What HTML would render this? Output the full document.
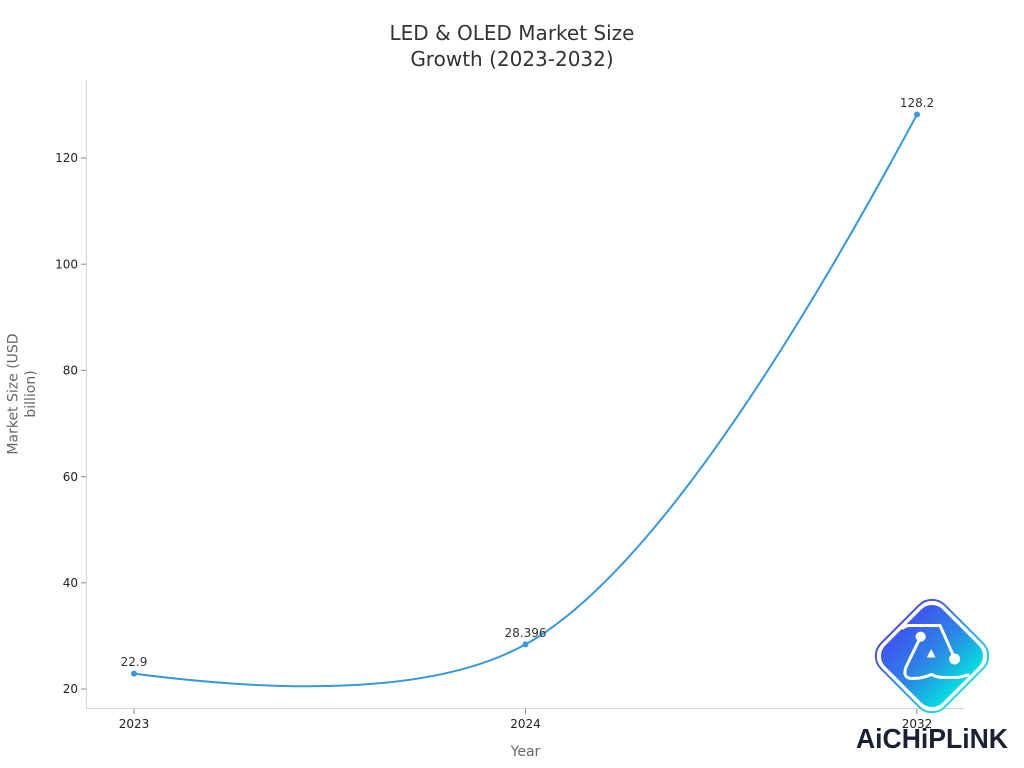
<!DOCTYPE html>
<html lang="en">
<head>
<meta charset="utf-8">
<title>LED &amp; OLED Market Size Growth (2023-2032)</title>
<style>
  html, body { margin: 0; padding: 0; background: #fff; }
  body { width: 1024px; height: 768px; overflow: hidden; }
  svg { display: block; font-family: "DejaVu Sans", "Liberation Sans", sans-serif; }
</style>
</head>
<body>
<svg id="chart" width="1024" height="768" viewBox="0 0 1024 768" xmlns="http://www.w3.org/2000/svg">
  <defs>
    <linearGradient id="logoFill" x1="0" y1="0" x2="1" y2="0">
      <stop offset="0" stop-color="#3f55f0"/>
      <stop offset="0.5" stop-color="#2b86e6"/>
      <stop offset="1" stop-color="#06dcdf"/>
    </linearGradient>
    <linearGradient id="logoEdge" x1="0" y1="0" x2="1" y2="0">
      <stop offset="0" stop-color="#4a50d6"/>
      <stop offset="1" stop-color="#24d6e0"/>
    </linearGradient>
  </defs>
  <rect width="1024" height="768" fill="#ffffff"/>
  <text text-anchor="middle" font-size="20" fill="#333333"><tspan x="512" y="40">LED &amp; OLED Market Size</tspan><tspan x="512" y="66">Growth (2023-2032)</tspan></text>
  <line x1="86.5" y1="80" x2="86.5" y2="708.5" stroke="#d6d6d6" stroke-width="1"/>
  <line x1="86" y1="708.5" x2="964" y2="708.5" stroke="#d6d6d6" stroke-width="1"/>
  <g id="y-ticks"></g>
  <g id="x-ticks"></g>
  <text text-anchor="middle" font-size="14" fill="#666666" transform="translate(17.5 394) rotate(-90)"><tspan x="0" y="0">Market Size (USD</tspan><tspan x="0" y="17.5">billion)</tspan></text>
  <text x="525.5" y="756" text-anchor="middle" font-size="14" fill="#666666">Year</text>
  <g id="series"></g>
  <g>
    <rect x="887" y="611" width="90" height="90" rx="18" fill="#ffffff" stroke="url(#logoEdge)" stroke-width="2" transform="rotate(45 932 656)"/>
    <rect x="891.5" y="615.5" width="81" height="81" rx="15" fill="url(#logoFill)" transform="rotate(45 932 656)"/>
    <g fill="none" stroke="#ffffff" stroke-width="3" stroke-linecap="round" stroke-linejoin="round">
      <path d="M903 628 Q906 625.5 910 625.5 H940 L955 659"/>
      <path d="M920.7 636.7 L906 667 Q902 678 912 678.5 L920 678 Q926 677 931.5 674.5 Q937 677.5 944 677.5 L958 677.5 L968 675"/>
      <circle cx="920.7" cy="636.7" r="3.6" fill="#ffffff"/>
      <circle cx="954.6" cy="659" r="4" fill="#ffffff"/>
      <path d="M931.2 650 L927.6 657 H934.8 Z" fill="#ffffff" stroke-width="1"/>
    </g>
    <text x="856" y="748" font-family="'Liberation Sans', sans-serif" font-weight="700" font-size="27.5" fill="#1b2132" textLength="152" lengthAdjust="spacingAndGlyphs">AiCHiPLiNK</text>
  </g>
</svg>
<script>
var categories = ["2023", "2024", "2032"];
var seriesValues = [22.9, 28.396, 128.2];
var valueLabels = ["22.9", "28.396", "128.2"];
var yTickValues = [20, 40, 60, 80, 100, 120];

var NS = "http://www.w3.org/2000/svg";
function xScale(i) { return 134 + i * 391.5; }
function yScale(v) { return 689 - (v - 20) * 5.31; }

function make(tag, attrs, parent, content) {
  var el = document.createElementNS(NS, tag);
  for (var k in attrs) { el.setAttribute(k, attrs[k]); }
  if (content !== undefined) { el.textContent = content; }
  parent.appendChild(el);
  return el;
}

var yGroup = document.getElementById("y-ticks");
yTickValues.forEach(function (v) {
  var y = yScale(v);
  var mark = make("line", { x1: 81, x2: 86, y1: y, y2: y, stroke: "#8a8a8a", "stroke-width": 1 }, yGroup);
  
  
  var label = make("text", { x: 78, y: y + 4.2, "text-anchor": "end", "font-size": 12, fill: "#222222" }, yGroup, String(v));
  
  
});

var xGroup = document.getElementById("x-ticks");
categories.forEach(function (c, i) {
  var x = xScale(i);
  var mark = make("line", { x1: x, x2: x, y1: 709, y2: 714, stroke: "#8a8a8a", "stroke-width": 1 }, xGroup);
  
  
  var label = make("text", { x: x, y: 728, "text-anchor": "middle", "font-size": 12, fill: "#222222" }, xGroup, c);
  
  
});

function tangent(p, c, n) {
  var d1x = p[0] - c[0], d1y = p[1] - c[1], d2x = n[0] - c[0], d2y = n[1] - c[1];
  var d1s = Math.sqrt(d1x * d1x + d1y * d1y), d2s = Math.sqrt(d2x * d2x + d2y * d2y);
  var d1a = Math.sqrt(d1s), d2a = Math.sqrt(d2s);
  var numx = d2s * d1x - d1s * d2x, numy = d2s * d1y - d1s * d2y;
  var den1 = 3 * d2a * (d1a + d2a), den2 = 3 * d1a * (d1a + d2a);
  return [[c[0] + numx / den1, c[1] + numy / den1], [c[0] - numx / den2, c[1] - numy / den2]];
}

function splinePath(pts) {
  if (pts.length < 3) {
    return "M" + pts.map(function (p) { return p.join(","); }).join("L");
  }
  var tans = [];
  for (var i = 1; i < pts.length - 1; i++) {
    tans.push(tangent(pts[i - 1], pts[i], pts[i + 1]));
  }
  var d = "M" + pts[0].join(",") + "Q" + tans[0][0].join(",") + " " + pts[1].join(",");
  for (var j = 2; j < pts.length - 1; j++) {
    d += "C" + tans[j - 2][1].join(",") + " " + tans[j - 1][0].join(",") + " " + pts[j].join(",");
  }
  d += "Q" + tans[tans.length - 1][1].join(",") + " " + pts[pts.length - 1].join(",");
  return d;
}

var seriesGroup = document.getElementById("series");
var points = seriesValues.map(function (v, i) { return [xScale(i), yScale(v)]; });

var curve = make("path", { d: splinePath(points), fill: "none", stroke: "#3498db", "stroke-width": 2 }, seriesGroup);



points.forEach(function (p, i) {
  var dot = make("circle", { cx: p[0], cy: p[1], r: 3, fill: "#3498db" }, seriesGroup);
  
  
  var text = make("text", { x: p[0], y: p[1] - 7.5, "text-anchor": "middle", "font-size": 12, fill: "#333333" }, seriesGroup, valueLabels[i]);
  
  
});
</script>
</body>
</html>
